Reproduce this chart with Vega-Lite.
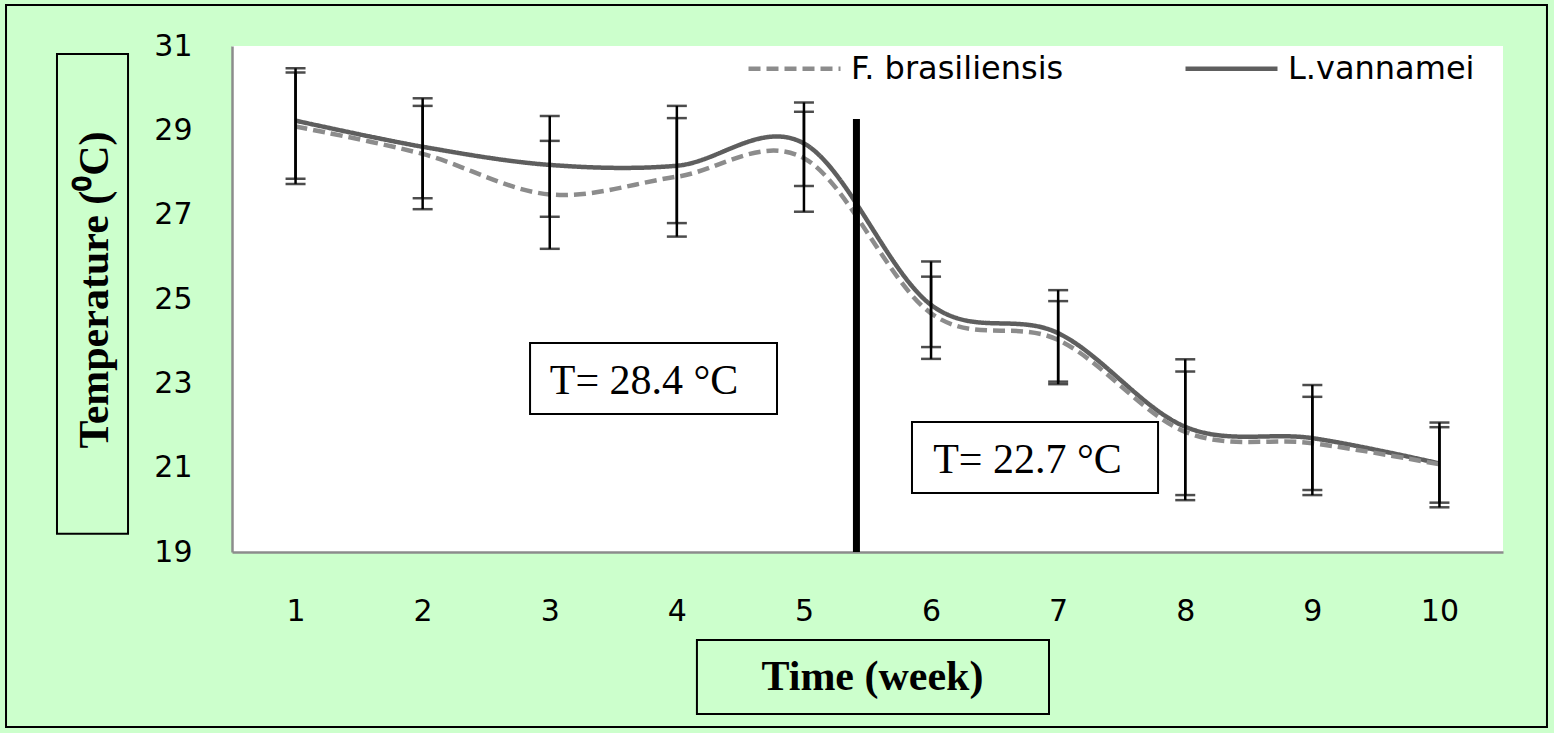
{
  "$schema": "https://vega.github.io/schema/vega-lite/v6.json",
  "width": 1271,
  "height": 506,
  "autosize": {"type": "none"},
  "padding": {"left": 232, "top": 46, "right": 51, "bottom": 181},
  "background": "#CCFFCC",
  "config": {
    "view": {"fill": "white", "stroke": null},
    "axis": {"title": null, "grid": false, "ticks": false, "labelFont": "DejaVu Sans", "labelFontSize": 30,
             "labelColor": "black", "domainColor": "#8c8c8c", "domainWidth": 2.5},
    "axisX": {"labelPadding": 44},
    "axisY": {"labelPadding": 40}
  },
  "datasets": {
    "temps": [
      {"series": "L.vannamei", "week": 1, "temp": 29.23, "lo": 27.85, "hi": 30.47},
      {"series": "L.vannamei", "week": 2, "temp": 28.61, "lo": 27.39, "hi": 29.76},
      {"series": "L.vannamei", "week": 3, "temp": 28.18, "lo": 26.95, "hi": 29.34},
      {"series": "L.vannamei", "week": 4, "temp": 28.16, "lo": 26.80, "hi": 29.58},
      {"series": "L.vannamei", "week": 5, "temp": 28.69, "lo": 27.68, "hi": 29.66},
      {"series": "L.vannamei", "week": 6, "temp": 24.86, "lo": 23.86, "hi": 25.89},
      {"series": "L.vannamei", "week": 7, "temp": 24.19, "lo": 23.04, "hi": 25.21},
      {"series": "L.vannamei", "week": 8, "temp": 21.97, "lo": 20.35, "hi": 23.57},
      {"series": "L.vannamei", "week": 9, "temp": 21.70, "lo": 20.47, "hi": 22.96},
      {"series": "L.vannamei", "week": 10, "temp": 21.10, "lo": 20.17, "hi": 22.07},
      {"series": "F. brasiliensis", "week": 1, "temp": 29.09, "lo": 27.73, "hi": 30.37},
      {"series": "F. brasiliensis", "week": 2, "temp": 28.44, "lo": 27.13, "hi": 29.58},
      {"series": "F. brasiliensis", "week": 3, "temp": 27.48, "lo": 26.19, "hi": 28.75},
      {"series": "F. brasiliensis", "week": 4, "temp": 27.90, "lo": 26.48, "hi": 29.29},
      {"series": "F. brasiliensis", "week": 5, "temp": 28.34, "lo": 27.07, "hi": 29.44},
      {"series": "F. brasiliensis", "week": 6, "temp": 24.66, "lo": 23.58, "hi": 25.53},
      {"series": "F. brasiliensis", "week": 7, "temp": 24.03, "lo": 22.98, "hi": 24.95},
      {"series": "F. brasiliensis", "week": 8, "temp": 21.85, "lo": 20.23, "hi": 23.28},
      {"series": "F. brasiliensis", "week": 9, "temp": 21.58, "lo": 20.35, "hi": 22.68},
      {"series": "F. brasiliensis", "week": 10, "temp": 21.08, "lo": 20.06, "hi": 21.96}
    ],
    "boxes": [
      {"name": "period1", "x1": 2.845, "x2": 4.788, "y1": 23.957, "y2": 22.273},
      {"name": "period2", "x1": 5.850, "x2": 7.786, "y1": 22.084, "y2": 20.400},
      {"name": "ytitle", "x1": -0.877, "x2": -0.318, "y1": 30.81, "y2": 19.43},
      {"name": "xtitle", "x1": 4.158, "x2": 6.928, "y1": 16.913, "y2": 15.158},
      {"name": "frame", "x1": -1.278, "x2": 10.846, "y1": 31.972, "y2": 14.850}
    ],
    "divider": [{"week": 5.413, "lo": 19, "hi": 29.27}],
    "periods": [
      {"label": "T= 28.4 °C", "x": 3.742, "y": 22.747},
      {"label": "T= 22.7 °C", "x": 6.759, "y": 20.874}
    ],
    "xtitle": [{"label": "Time (week)", "x": 5.539, "y": 15.727}],
    "ytitle": [{"label": "Temperature (⁰C)", "x": -0.476, "y": 25.214}]
  },
  "layer": [
    {
      "data": {"name": "boxes"},
      "mark": {"type": "rect", "filled": false, "stroke": "black", "strokeWidth": 2},
      "encoding": {
        "x": {"field": "x1", "type": "quantitative", "scale": {"domain": [0.5, 10.5], "nice": false, "zero": false},
              "axis": {"values": [1,2,3,4,5,6,7,8,9,10]}},
        "x2": {"field": "x2"},
        "y": {"field": "y1", "type": "quantitative", "scale": {"domain": [19, 31], "nice": false, "zero": false},
              "axis": {"values": [19,21,23,25,27,29,31]}},
        "y2": {"field": "y2"}
      }
    },
    {
      "data": {"name": "temps"},
      "mark": {"type": "line", "interpolate": "cardinal", "strokeWidth": 4.5},
      "encoding": {
        "x": {"field": "week", "type": "quantitative", "scale": {"domain": [0.5, 10.5], "nice": false, "zero": false},
              "axis": {"values": [1,2,3,4,5,6,7,8,9,10]}},
        "y": {"field": "temp", "type": "quantitative", "scale": {"domain": [19, 31], "nice": false, "zero": false},
              "axis": {"values": [19,21,23,25,27,29,31]}},
        "color": {"field": "series", "type": "nominal",
                  "scale": {"domain": ["F. brasiliensis", "L.vannamei"], "range": ["#8c8c8c", "#5e5e5e"]},
                  "legend": {"title": null, "orient": "none", "legendX": 514, "legendY": -26, "direction": "horizontal",
                             "symbolType": "stroke", "symbolSize": 8464, "symbolStrokeWidth": 4.5,
                             "labelFont": "DejaVu Sans", "labelFontSize": 32, "labelColor": "black", "labelOffset": 8,
                             "labelLimit": 600, "columnPadding": 112, "padding": 0}},
        "strokeDash": {"field": "series", "type": "nominal",
                  "scale": {"domain": ["F. brasiliensis", "L.vannamei"], "range": [[12, 6], [1, 0]]},
                  "legend": {"title": null, "orient": "none", "legendX": 514, "legendY": -26, "direction": "horizontal",
                             "symbolType": "stroke", "symbolSize": 8464, "symbolStrokeWidth": 4.5,
                             "labelFont": "DejaVu Sans", "labelFontSize": 32, "labelColor": "black", "labelOffset": 8,
                             "labelLimit": 600, "columnPadding": 112, "padding": 0}}
      }
    },
    {
      "data": {"name": "temps"},
      "mark": {"type": "rule", "color": "black", "strokeWidth": 2.5},
      "encoding": {
        "x": {"field": "week", "type": "quantitative", "scale": {"domain": [0.5, 10.5], "nice": false, "zero": false},
              "axis": {"values": [1,2,3,4,5,6,7,8,9,10]}},
        "y": {"field": "lo", "type": "quantitative", "scale": {"domain": [19, 31], "nice": false, "zero": false},
              "axis": {"values": [19,21,23,25,27,29,31]}},
        "y2": {"field": "hi"}
      }
    },
    {
      "data": {"name": "temps"},
      "mark": {"type": "tick", "orient": "horizontal", "color": "black", "size": 20, "thickness": 2.5},
      "encoding": {
        "x": {"field": "week", "type": "quantitative", "scale": {"domain": [0.5, 10.5], "nice": false, "zero": false},
              "axis": {"values": [1,2,3,4,5,6,7,8,9,10]}},
        "y": {"field": "lo", "type": "quantitative", "scale": {"domain": [19, 31], "nice": false, "zero": false},
              "axis": {"values": [19,21,23,25,27,29,31]}}
      }
    },
    {
      "data": {"name": "temps"},
      "mark": {"type": "tick", "orient": "horizontal", "color": "black", "size": 20, "thickness": 2.5},
      "encoding": {
        "x": {"field": "week", "type": "quantitative", "scale": {"domain": [0.5, 10.5], "nice": false, "zero": false},
              "axis": {"values": [1,2,3,4,5,6,7,8,9,10]}},
        "y": {"field": "hi", "type": "quantitative", "scale": {"domain": [19, 31], "nice": false, "zero": false},
              "axis": {"values": [19,21,23,25,27,29,31]}}
      }
    },
    {
      "data": {"name": "divider"},
      "mark": {"type": "rule", "color": "black", "strokeWidth": 7},
      "encoding": {
        "x": {"field": "week", "type": "quantitative", "scale": {"domain": [0.5, 10.5], "nice": false, "zero": false},
              "axis": {"values": [1,2,3,4,5,6,7,8,9,10]}},
        "y": {"field": "lo", "type": "quantitative", "scale": {"domain": [19, 31], "nice": false, "zero": false},
              "axis": {"values": [19,21,23,25,27,29,31]}},
        "y2": {"field": "hi"}
      }
    },
    {
      "data": {"name": "periods"},
      "mark": {"type": "text", "font": "Liberation Serif", "fontSize": 42, "align": "center", "baseline": "alphabetic", "color": "black"},
      "encoding": {
        "x": {"field": "x", "type": "quantitative", "scale": {"domain": [0.5, 10.5], "nice": false, "zero": false},
              "axis": {"values": [1,2,3,4,5,6,7,8,9,10]}},
        "y": {"field": "y", "type": "quantitative", "scale": {"domain": [19, 31], "nice": false, "zero": false},
              "axis": {"values": [19,21,23,25,27,29,31]}},
        "text": {"field": "label"}
      }
    },
    {
      "data": {"name": "xtitle"},
      "mark": {"type": "text", "font": "Liberation Serif", "fontWeight": "bold", "fontSize": 42, "align": "center", "baseline": "alphabetic", "color": "black"},
      "encoding": {
        "x": {"field": "x", "type": "quantitative", "scale": {"domain": [0.5, 10.5], "nice": false, "zero": false},
              "axis": {"values": [1,2,3,4,5,6,7,8,9,10]}},
        "y": {"field": "y", "type": "quantitative", "scale": {"domain": [19, 31], "nice": false, "zero": false},
              "axis": {"values": [19,21,23,25,27,29,31]}},
        "text": {"field": "label"}
      }
    },
    {
      "data": {"name": "ytitle"},
      "mark": {"type": "text", "font": "Liberation Serif", "fontWeight": "bold", "fontSize": 42, "align": "center", "baseline": "alphabetic", "angle": 270, "color": "black"},
      "encoding": {
        "x": {"field": "x", "type": "quantitative", "scale": {"domain": [0.5, 10.5], "nice": false, "zero": false},
              "axis": {"values": [1,2,3,4,5,6,7,8,9,10]}},
        "y": {"field": "y", "type": "quantitative", "scale": {"domain": [19, 31], "nice": false, "zero": false},
              "axis": {"values": [19,21,23,25,27,29,31]}},
        "text": {"field": "label"}
      }
    }
  ]
}
